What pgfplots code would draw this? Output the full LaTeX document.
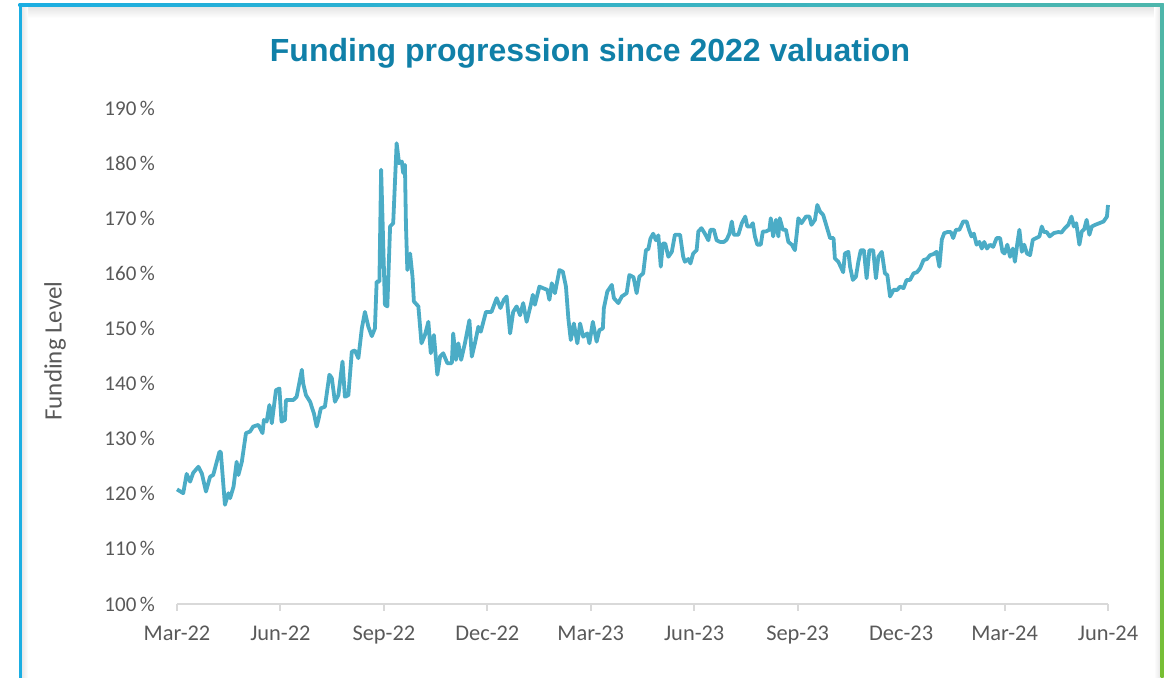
\documentclass[border=0pt]{standalone}
\usepackage{fontspec}
\setmainfont{Carlito}
\newfontfamily\titlefont{Liberation Sans}
\usepackage{pgfplots}
\pgfplotsset{compat=1.18}
\definecolor{linec}{RGB}{75,172,198}
\definecolor{titlec}{RGB}{16,128,168}
\definecolor{tickc}{RGB}{89,89,89}
\definecolor{axisc}{RGB}{217,217,217}
\definecolor{frameblue}{RGB}{27,174,226}
\definecolor{frameteal}{RGB}{77,182,172}
\definecolor{framegreen}{RGB}{120,190,50}
\begin{document}
\begin{tikzpicture}
\useasboundingbox (0pt,0pt) rectangle (584pt,339pt);
\shade[top color=black!10, bottom color=white] (11pt,335.5pt) rectangle (580pt,330pt);
\shade[left color=black!9, right color=white] (11pt,0pt) rectangle (14pt,335.5pt);
\shade[left color=white, right color=black!9] (577pt,0pt) rectangle (580pt,335.5pt);
\fill[frameblue] (9.25pt,0pt) rectangle (10.75pt,337.25pt);
\shade[left color=frameblue, right color=frameteal] (9.25pt,335.75pt) rectangle (581.75pt,337.25pt);
\shade[top color=frameteal, bottom color=framegreen] (580.25pt,0pt) rectangle (581.75pt,337.25pt);
\node[font=\titlefont\bfseries\fontsize{16}{19}\selectfont, text=titlec] at (295pt,312.5pt) {Funding progression since 2022 valuation};
\begin{axis}[at={(88.5pt,37pt)}, anchor=south west, scale only axis,
  width=465.5pt, height=248pt,
  xmin=0, xmax=27, ymin=100, ymax=190, clip=false,
  axis x line*=bottom, axis y line*=left, axis line style={-},
  x axis line style={draw=axisc, line width=1pt},
  y axis line style={draw=none},
  xtick={0,3,...,27},
  xticklabels={Mar-22,Jun-22,Sep-22,Dec-22,Mar-23,Jun-23,Sep-23,Dec-23,Mar-24,Jun-24},
  ytick={100,110,...,190},
  yticklabels={100\,\%,110\,\%,120\,\%,130\,\%,140\,\%,150\,\%,160\,\%,170\,\%,180\,\%,190\,\%},
  tick align=outside, major tick length=3.5pt,
  xtick style={draw=axisc, line width=1pt},
  ytick style={draw=none},
  every tick label/.append style={text=tickc},
  x tick label style={yshift=-4pt, font=\fontsize{11.2}{13}\selectfont},
  y tick label style={xshift=-4pt, font=\fontsize{10.5}{12}\selectfont},
  ylabel={Funding Level},
  ylabel style={at={(axis description cs:-0.131,0.51)}, anchor=center, font=\fontsize{12.5}{14}\selectfont, text=tickc},
]
\addplot[linec, line width=1.9pt, line join=round] coordinates {
(0,120.8)(0.18,120.1)(0.28,123.6)(0.38,122.2)(0.47,123.8)(0.62,124.9)(0.72,123.7)(0.84,120.4)(0.96,123.1)(1.05,123.4)
(1.23,127.6)(1.27,127.6)(1.39,118.0)(1.49,120.1)(1.54,119.2)(1.64,121.3)(1.73,125.8)(1.78,123.4)(1.88,125.8)(2.00,131.0)
(2.12,131.3)(2.21,132.2)(2.36,132.5)(2.48,131.0)(2.52,133.4)(2.60,133.1)(2.68,136.1)(2.75,132.8)(2.87,138.8)(2.97,139.1)
(3.03,133.1)(3.13,133.4)(3.16,137.0)(3.37,137.0)(3.47,137.6)(3.62,142.5)(3.66,140.0)(3.74,137.9)(3.86,136.7)(3.97,134.6)
(4.05,132.2)(4.10,133.4)(4.17,135.5)(4.29,135.8)(4.42,141.6)(4.49,141.0)(4.58,136.7)(4.68,137.9)(4.80,144.0)(4.87,137.6)
(4.97,137.9)(5.07,145.8)(5.16,146.0)(5.26,144.6)(5.36,150.0)(5.45,153.0)(5.55,150.3)(5.65,148.6)(5.74,150.0)(5.79,158.5)
(5.87,158.5)(5.92,178.8)(6.03,154.3)(6.10,154.0)(6.18,168.5)(6.27,169.1)(6.37,183.6)(6.44,180.0)(6.52,180.3)(6.56,178.2)
(6.61,179.7)(6.64,168.8)(6.68,160.6)(6.76,163.6)(6.83,159.4)(6.87,154.9)(7.00,154.0)(7.09,147.3)(7.19,148.8)(7.29,151.2)
(7.36,145.5)(7.45,148.8)(7.55,141.6)(7.63,144.9)(7.72,145.5)(7.84,143.7)(7.97,143.7)(8.01,149.1)(8.09,144.3)(8.16,147.3)
(8.24,144.3)(8.35,147.3)(8.48,151.5)(8.55,144.9)(8.64,147.3)(8.74,150.3)(8.81,149.4)(8.96,153.0)(9.12,153.0)(9.27,155.5)
(9.38,153.7)(9.48,155.2)(9.56,155.8)(9.66,149.1)(9.75,153.0)(9.85,154.0)(9.95,152.4)(10.04,154.6)(10.14,151.2)(10.26,154.3)
(10.32,156.1)(10.38,154.3)(10.51,157.6)(10.62,157.3)(10.74,157.0)(10.80,155.2)(10.87,158.2)(10.96,156.4)(11.09,160.6)(11.19,160.3)
(11.28,157.6)(11.35,151.8)(11.42,147.9)(11.51,150.9)(11.61,147.3)(11.69,150.9)(11.78,148.5)(11.90,149.1)(11.96,147.3)(12.06,151.2)
(12.17,147.6)(12.25,149.7)(12.35,150.0)(12.38,153.7)(12.48,156.7)(12.61,157.9)(12.67,155.5)(12.80,154.6)(12.90,155.8)(13.04,156.4)
(13.12,159.7)(13.24,159.3)(13.33,156.4)(13.41,159.4)(13.52,160.0)(13.60,164.2)(13.67,164.4)(13.73,166.3)(13.81,167.2)(13.89,166.0)
(13.96,166.9)(14.03,161.2)(14.09,165.4)(14.16,165.4)(14.25,163.0)(14.35,163.9)(14.44,167.0)(14.59,167.0)(14.68,163.0)(14.73,162.1)
(14.83,162.6)(14.89,161.8)(14.97,163.6)(15.07,164.2)(15.12,167.6)(15.21,168.2)(15.31,167.2)(15.41,166.0)(15.47,167.9)(15.57,167.9)
(15.65,166.0)(15.75,165.7)(15.86,165.7)(15.94,166.1)(16.02,167.2)(16.09,169.4)(16.15,167.0)(16.28,167.0)(16.38,169.1)(16.48,170.3)
(16.54,168.5)(16.64,168.5)(16.70,169.1)(16.76,166.7)(16.83,165.2)(16.93,165.2)(16.99,167.6)(17.08,167.6)(17.18,167.9)(17.22,170.0)
(17.29,166.7)(17.37,169.7)(17.44,166.7)(17.48,170.0)(17.57,167.9)(17.66,167.9)(17.73,165.7)(17.83,165.2)(17.92,164.2)(17.97,167.0)
(18.02,170.0)(18.11,169.1)(18.24,170.3)(18.34,170.3)(18.40,168.8)(18.50,169.7)(18.57,172.4)(18.65,171.2)(18.74,170.6)(18.84,168.5)
(18.94,166.4)(19.04,166.4)(19.08,162.7)(19.18,162.1)(19.27,160.9)(19.32,160.2)(19.37,163.6)(19.47,163.9)(19.52,161.2)(19.60,158.8)
(19.69,159.4)(19.76,162.1)(19.83,164.2)(19.92,164.2)(20.00,159.1)(20.08,164.2)(20.19,164.2)(20.27,159.1)(20.34,163.0)(20.44,163.9)
(20.53,160.0)(20.60,159.7)(20.68,155.8)(20.78,157.0)(20.89,157.0)(20.97,157.6)(21.07,157.3)(21.16,158.8)(21.26,158.8)(21.36,160.0)
(21.46,160.2)(21.55,160.9)(21.65,162.4)(21.75,162.6)(21.84,163.3)(21.94,163.5)(22.03,163.9)(22.11,161.2)(22.18,166.1)(22.25,167.3)
(22.35,167.5)(22.44,167.5)(22.51,166.4)(22.59,167.9)(22.69,167.9)(22.80,169.4)(22.90,169.4)(22.97,167.9)(23.04,166.7)(23.11,167.2)
(23.19,165.2)(23.27,165.7)(23.34,164.5)(23.41,165.7)(23.49,164.5)(23.58,165.2)(23.67,164.8)(23.77,166.4)(23.87,166.4)(23.94,163.9)
(24.00,163.6)(24.08,165.2)(24.16,163.0)(24.24,164.5)(24.30,162.1)(24.37,165.4)(24.43,167.9)(24.50,163.9)(24.57,165.2)(24.65,163.6)
(24.74,163.3)(24.82,166.1)(24.92,166.4)(25.01,166.7)(25.08,168.5)(25.14,167.5)(25.22,167.5)(25.31,166.7)(25.43,167.3)(25.56,167.5)
(25.65,167.4)(25.75,168.2)(25.85,168.8)(25.94,170.3)(26.01,168.5)(26.08,169.1)(26.17,165.2)(26.24,167.6)(26.31,168.0)(26.38,169.7)
(26.46,167.0)(26.53,168.5)(26.63,168.8)(26.75,169.1)(26.87,169.4)(26.97,170.3)(27.00,172.4)
};
\end{axis}
\end{tikzpicture}
\end{document}
